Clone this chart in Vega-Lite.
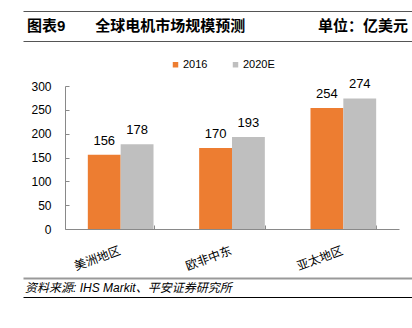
{
  "$schema": "https://vega.github.io/schema/vega-lite/v6.json",
  "padding": {"left": 22, "top": 10, "right": 0, "bottom": 0},
  "config": {
    "view": {"stroke": null},
    "font": "Liberation Sans",
    "text": {"font": "Liberation Sans, Noto Sans CJK SC"}
  },
  "spacing": 17,
  "resolve": {"scale": {"color": "independent"}, "legend": {"color": "independent"}},
  "vconcat": [
    {
      "width": 390,
      "height": 30,
      "view": {"stroke": "#555555", "strokeWidth": 1, "strokeDash": [390, 30]},
      "encoding": {
        "x": {"field": "side", "type": "nominal", "scale": {"type": "point", "domain": ["left", "right"], "padding": 0}, "axis": null},
        "text": {"field": "label"}
      },
      "layer": [
        {
          "data": {"values": [{"side": "left", "label": "图表9　　全球电机市场规模预测"}]},
          "mark": {"type": "text", "align": "left", "baseline": "middle", "fontSize": 15, "fontWeight": "bold", "font": "Liberation Sans, Noto Sans CJK SC", "color": "#000000", "dx": 4}
        },
        {
          "data": {"values": [{"side": "right", "label": "单位：亿美元"}]},
          "mark": {"type": "text", "align": "right", "baseline": "middle", "fontSize": 15, "fontWeight": "bold", "font": "Liberation Sans, Noto Sans CJK SC", "color": "#000000", "dx": -5}
        }
      ]
    },
    {
      "spacing": 5,
      "resolve": {"scale": {"color": "independent"}, "legend": {"color": "independent"}},
      "vconcat": [
        {
          "width": 376,
          "height": 143,
          "data": {
            "values": [
              {"region": "美洲地区", "series": "2016", "value": 156},
              {"region": "美洲地区", "series": "2020E", "value": 178},
              {"region": "欧非中东", "series": "2016", "value": 170},
              {"region": "欧非中东", "series": "2020E", "value": 193},
              {"region": "亚太地区", "series": "2016", "value": 254},
              {"region": "亚太地区", "series": "2020E", "value": 274}
            ]
          },
          "encoding": {
            "x": {
              "field": "region", "type": "nominal", "sort": ["美洲地区", "欧非中东", "亚太地区"],
              "scale": {"range": [42, 376], "paddingInner": 0.41, "paddingOuter": 0.205},
              "axis": {
                "title": null, "labelAngle": -20, "labelAlign": "right", "labelBaseline": "top",
                "labelFontSize": 12, "labelFont": "Noto Sans CJK SC", "labelColor": "#000000",
                "labelPadding": 20, "labelOffset": -3, "domainColor": "#898989", "tickColor": "#898989", "tickSize": -4,
                "tickBand": "extent"
              }
            },
            "xOffset": {"field": "series", "type": "nominal", "sort": ["2016", "2020E"], "scale": {"paddingInner": 0, "paddingOuter": 0}},
            "y": {
              "field": "value", "type": "quantitative", "scale": {"domain": [0, 300]},
              "axis": {
                "title": null, "values": [0, 50, 100, 150, 200, 250, 300], "grid": false, "offset": -42,
                "domainColor": "#898989", "tickColor": "#898989", "tickSize": -4, "labelPadding": 18,
                "labelFontSize": 12, "labelFont": "Liberation Sans", "labelColor": "#000000"
              }
            }
          },
          "layer": [
            {
              "mark": {"type": "bar"},
              "encoding": {
                "color": {
                  "field": "series", "type": "nominal",
                  "scale": {"domain": ["2016", "2020E"], "range": ["#ED7D31", "#BFBFBF"]},
                  "legend": {
                    "title": null, "orient": "none", "legendX": 147, "legendY": -27, "direction": "horizontal",
                    "symbolType": "square", "symbolSize": 30, "symbolStrokeWidth": 0, "labelFontSize": 11,
                    "labelFont": "Liberation Sans", "labelColor": "#000000", "labelOffset": 2, "columnPadding": 22
                  }
                }
              }
            },
            {
              "mark": {"type": "text", "dy": -14, "baseline": "middle", "fontSize": 13, "font": "Liberation Sans", "color": "#000000"},
              "encoding": {"text": {"field": "value", "type": "quantitative"}}
            }
          ]
        },
        {
          "width": 390,
          "height": 19,
          "view": {"stroke": "#000000", "strokeWidth": 1, "strokeDash": [0, 409, 390, 19]},
          "data": {"values": [{"side": "left", "label": "资料来源: IHS Markit、平安证券研究所"}]},
          "mark": {"type": "text", "align": "left", "baseline": "middle", "fontSize": 12, "fontStyle": "italic", "font": "Liberation Sans, Noto Sans CJK SC", "color": "#000000", "dx": 2},
          "encoding": {
            "x": {
              "field": "side", "type": "nominal", "scale": {"type": "point", "domain": ["left", "right"], "padding": 0},
              "axis": {"orient": "top", "title": null, "labels": false, "ticks": false, "grid": false, "domain": true, "domainColor": "#999999", "domainWidth": 2}
            },
            "text": {"field": "label"}
          }
        }
      ]
    }
  ]
}
